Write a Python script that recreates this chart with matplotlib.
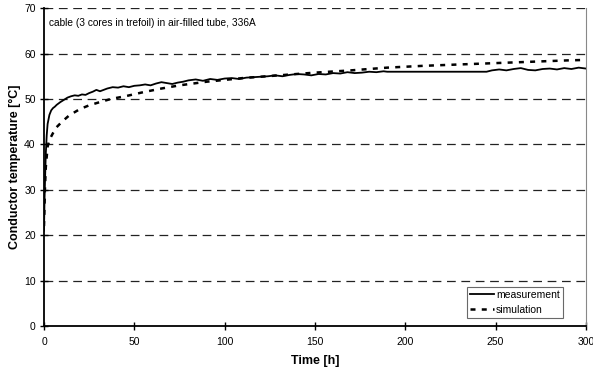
import matplotlib.pyplot as plt

plt.rcParams['font.family'] = ['Liberation Sans', 'DejaVu Sans']

# measured conductor temperature
meas_t = [0, 0.3, 0.7, 1, 1.5, 2, 3, 4, 5, 6, 7, 9, 11, 13, 15, 17, 19, 21, 23, 25,
          27, 29, 31, 33, 35, 38, 41, 44, 47, 50, 53, 56, 59, 62, 65, 68, 71, 74, 77, 80,
          84, 88, 92, 96, 100, 104, 108, 112, 116, 120, 124, 128, 132, 136, 140, 144, 148,
          152, 156, 160, 164, 168, 172, 176, 180, 184, 188, 190,
          245, 248, 252, 256, 260, 264, 268, 272, 276, 280, 284, 288, 292, 296, 300]
meas_v = [21, 28, 34, 38, 42, 44.5, 46.5, 47.5, 48, 48.3, 48.7, 49.3, 49.8, 50.3, 50.6, 50.8,
          50.7, 51.0, 50.9, 51.3, 51.6, 52.0, 51.7, 52.0, 52.3, 52.6, 52.5, 52.8, 52.6, 52.9,
          53.0, 53.2, 53.0, 53.4, 53.7, 53.5, 53.3, 53.6, 53.8, 54.1, 54.3, 54.0, 54.4, 54.2,
          54.5, 54.6, 54.4, 54.7, 54.8, 54.9, 55.0, 55.2, 55.0, 55.3, 55.5, 55.4, 55.2, 55.5,
          55.4, 55.7, 55.6, 55.9, 55.7, 55.8, 56.0, 55.9, 56.1, 56.0,
          56.0, 56.3, 56.5, 56.3, 56.6, 56.8, 56.4, 56.3, 56.6, 56.7, 56.5, 56.8, 56.6, 56.9, 56.7]

# simulated conductor temperature
sim_t = [0, 0.5, 1, 2, 3, 5, 7, 10, 14, 20, 25, 30, 37, 45, 55, 65, 75, 90, 110, 130,
         150, 170, 190, 210, 230, 250, 270, 290, 300]
sim_v = [22, 30, 35, 39.5, 41, 42.5, 43.8, 45, 46.4, 47.8, 48.6, 49.2, 50, 50.6, 51.5,
         52.3, 53, 53.8, 54.6, 55.2, 55.8, 56.3, 56.9, 57.3, 57.6, 57.9, 58.2, 58.5, 58.6]

fig = plt.figure(figsize=(5.93, 3.71), dpi=100)
ax = fig.add_axes([0.0742, 0.1213, 0.9138, 0.8567])

ax.plot(meas_t, meas_v, color='black', lw=1.3, label='measurement')
ax.plot(sim_t, sim_v, color='black', lw=1.8, linestyle=(0, (2, 2.5)), label='simulation')

ax.set_xlim(0, 300)
ax.set_ylim(0, 70)
ax.set_xticks(range(0, 301, 50))
ax.set_yticks(range(0, 71, 10))
for y in range(10, 71, 10):
    ax.axhline(y, color='#222222', lw=0.9, linestyle=(0, (7, 4.5)), zorder=0)

ax.spines['top'].set_visible(False)
ax.spines['right'].set_color('#888888')
ax.spines['right'].set_linewidth(0.8)
ax.spines['left'].set_linewidth(1.3)
ax.spines['bottom'].set_linewidth(1.3)
ax.tick_params(axis='x', direction='inout', length=6, width=1, labelsize=7.5, pad=5)
ax.tick_params(axis='y', direction='inout', length=6, width=1, labelsize=7.5, pad=3)

ax.set_xlabel('Time [h]', fontsize=9, fontweight='bold', labelpad=6)
ax.set_ylabel('Conductor temperature [°C]', fontsize=9, fontweight='bold', labelpad=2)
ax.text(3, 66.0, 'cable (3 cores in trefoil) in air-filled tube, 336A', fontsize=7.3)

leg = ax.legend(loc='lower right', bbox_to_anchor=(0.973, 0.0), fontsize=7.5, frameon=True,
                fancybox=False, handlelength=2.3, borderpad=0.3, labelspacing=0.45,
                handletextpad=0.2, borderaxespad=0.8)
leg.get_frame().set_edgecolor('#444444')
leg.get_frame().set_linewidth(0.8)

plt.savefig('out.png', dpi=100)
